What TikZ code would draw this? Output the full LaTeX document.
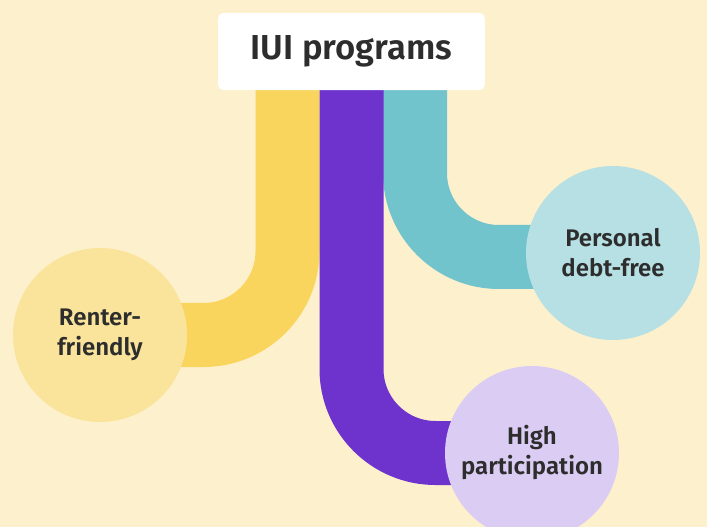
\documentclass[tikz,border=0pt]{standalone}
\usepackage{fontspec}
\setmainfont{Fira Sans}[BoldFont={Fira Sans SemiBold}]
\usetikzlibrary{positioning}
\definecolor{cream}{HTML}{FDF0CC}
\definecolor{ink}{HTML}{2D2D2D}
\definecolor{sun}{HTML}{F9D55E}
\definecolor{sunpale}{HTML}{FAE49B}
\definecolor{grape}{HTML}{6E32CD}
\definecolor{grapepale}{HTML}{DBCCF3}
\definecolor{sea}{HTML}{72C4CC}
\definecolor{seapale}{HTML}{B7E0E4}
\pgfdeclarelayer{paper}
\pgfdeclarelayer{bands}
\pgfsetlayers{paper,bands,main}
\tikzset{
  band/.style={line width=48pt, rounded corners=63pt},
  leaf/.style={circle, minimum size=130.5pt, inner sep=0pt, align=center, text=ink,
    font=\fontsize{18}{22.5}\selectfont\bfseries},
  titlebox/.style={fill=white, rounded corners=4pt, minimum width=200pt, minimum height=58pt,
    text=ink, font=\fontsize{26}{30}\selectfont\bfseries}
}
\begin{document}
\begin{tikzpicture}[x=0.75pt,y=-0.75pt]
    \begin{pgfonlayer}{paper}
      \fill[cream] (0,0) rectangle (707,527);
    \end{pgfonlayer}
    \useasboundingbox (0,0) rectangle (707,527);
    \node[titlebox] (title) at (351.5,51.5) {IUI programs};
    \node[leaf, fill=sunpale] (renter) at (100,335) {Renter-\\friendly};
    \node[leaf, fill=seapale] (debtfree) at (613,253) {Personal\\debt-free};
    \node[leaf, fill=grapepale] (high) at (532,453) {High\\participation};
    \coordinate (ysrc) at (287.5,40);
    \coordinate (psrc) at (351.5,40);
    \coordinate (tsrc) at (415,40);
    \begin{pgfonlayer}{bands}
      \draw[band, sun] (ysrc) |- (renter.center);
      \draw[band, sea] (tsrc) |- ([yshift=-3pt]debtfree.center);
      \draw[band, grape] (psrc) |- (high.center);
    \end{pgfonlayer}
\end{tikzpicture}
\end{document}
